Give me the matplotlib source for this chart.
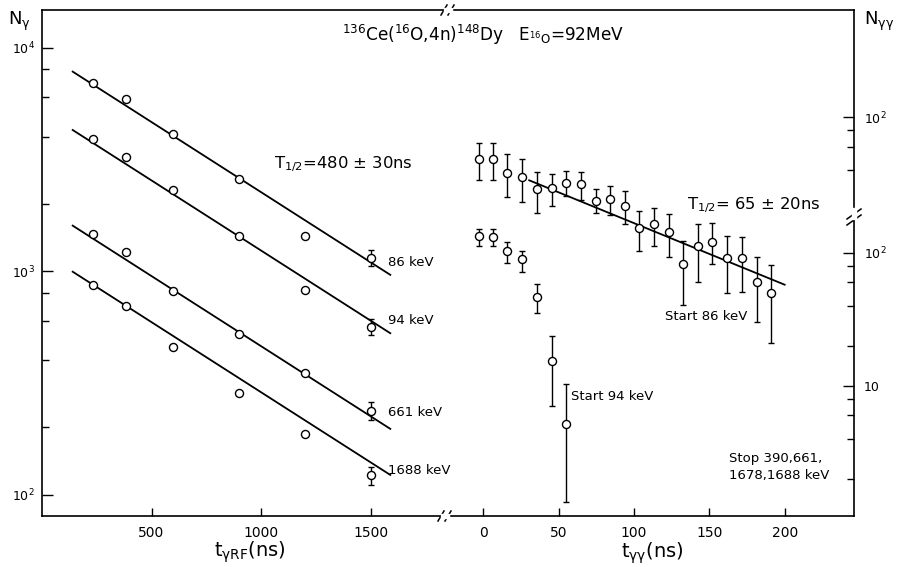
import numpy as np
import matplotlib.pyplot as plt
from matplotlib.lines import Line2D
from matplotlib.patches import Rectangle
from matplotlib.ticker import (FixedLocator, FixedFormatter, LogLocator,
                               NullFormatter)

plt.rcParams['font.family'] = 'DejaVu Sans'
plt.rcParams['mathtext.default'] = 'regular'

# gamma-RF delayed time spectra (left panel)
t_rf = [235, 385, 600, 900, 1200, 1500]
n_86 = [6970, 5890, 4110, 2580, 1430, 1150]
n_94 = [3900, 3240, 2310, 1430, 820, 565]
n_661 = [1465, 1215, 815, 525, 352, 238]
n_1688 = [867, 700, 458, 286, 186, 122]
rf_labels = ['86 keV', '94 keV', '661 keV', '1688 keV']
rf_last_err = [0.08, 0.08, 0.09, 0.09]    # relative error of the 1500 ns points

rf_half_life = 480.0                       # ns
rf_fit_n0 = [9570, 5245, 1958, 1218]       # fitted counts at t = 0
rf_fit_range = (140, 1590)

# gamma-gamma coincidence spectra (right panel)
t_gg = [-3, 6.5, 16, 26, 36, 45.5, 55, 65, 74.5, 84, 94, 103.5, 113, 123,
        132.5, 142.5, 152, 162, 171.5, 181.5, 191]
n_start86 = [48.5, 48.1, 38.1, 35.2, 28.9, 29.4, 32.1, 31.2, 23.3, 24.3, 21.4,
             14.7, 15.6, 13.6, 7.85, 10.7, 11.5, 8.8, 8.8, 5.8, 4.8]
n_start86_hi = [64, 64.1, 53.3, 48.3, 38.8, 37.7, 39.5, 38.8, 28.8, 30.4, 27.8,
                19.7, 20.6, 18.7, 11.7, 15.6, 15.9, 12.8, 12.6, 8.9, 7.8]
n_start86_lo = [33.5, 33.6, 24.9, 23.1, 18.9, 21.4, 25.5, 24.0, 18.9, 18.5, 15.6,
                9.8, 10.7, 8.9, 3.9, 5.8, 7.85, 4.8, 4.85, 2.9, 2.0]

t_gg94 = [-3, 6.5, 16, 26, 36, 45.5, 55]
n_start94 = [135, 132.6, 103.5, 89.7, 46.5, 15.4, 5.15]
n_start94_hi = [152, 151.5, 121.6, 104, 58.2, 23.9, 10.3]
n_start94_lo = [113, 112.9, 83.7, 72.3, 35.2, 7.08, 1.35]

gg_half_life = 65.0                        # ns
gg_fit_n0 = 46.4
gg_fit_range = (30.5, 200)

# the start-86 keV spectrum is drawn on its own (shifted) scale
shift86 = 10.5

W, H = 897, 567


def box(x0, y0, x1, y1):
    return [x0 / W, 1 - y1 / H, (x1 - x0) / W, (y1 - y0) / H]


def fxy(x, y):
    return x / W, 1 - y / H


fig = plt.figure(figsize=(W / 100, H / 100), dpi=100)
ax1 = fig.add_axes(box(42, 10, 449, 516))
ax2 = fig.add_axes(box(449, 10, 854, 516))

mk = dict(marker='o', ms=5.8, mfc='white', mec='k', mew=1.0, ls='none',
          zorder=3)

# ---- left panel
ax1.set_yscale('log')
for n, n0, err in zip([n_86, n_94, n_661, n_1688], rf_fit_n0, rf_last_err):
    tt = np.linspace(*rf_fit_range, 50)
    ax1.plot(tt, n0 * 2 ** (-tt / rf_half_life), 'k-', lw=1.3)
    ax1.errorbar(t_rf[-1], n[-1], yerr=[[n[-1] * err], [n[-1] * err]],
                 fmt='none', ecolor='k', elinewidth=1, capsize=2, zorder=2)
    ax1.plot(t_rf, n, **mk)

ax1.set_xlim(0, 1858)
ax1.set_ylim(80.3, 14750)
ax1.set_xticks([500, 1000, 1500])
ax1.yaxis.set_major_locator(LogLocator(base=10))
ax1.yaxis.set_minor_locator(LogLocator(base=10, subs=(2, 4, 6, 8)))
ax1.yaxis.set_minor_formatter(NullFormatter())
ax1.spines['right'].set_visible(False)
ax1.tick_params(which='both', direction='in', top=False, right=False,
                width=1, labelsize=10)
ax1.tick_params(axis='y', which='major', length=8, pad=5, labelsize=9)
ax1.tick_params(axis='y', which='minor', length=5)
ax1.tick_params(axis='x', length=6, pad=7)

# ---- right panel
ax2.set_yscale('log')
tt = np.linspace(*gg_fit_range, 50)
ax2.plot(tt, shift86 * gg_fit_n0 * 2 ** (-tt / gg_half_life), 'k-', lw=1.3)
n86 = np.array(n_start86) * shift86
ax2.errorbar(t_gg, n86,
             yerr=[n86 - np.array(n_start86_lo) * shift86,
                   np.array(n_start86_hi) * shift86 - n86],
             fmt='none', ecolor='k', elinewidth=1, capsize=2, zorder=2)
ax2.plot(t_gg, n86, **mk)
n94 = np.array(n_start94)
ax2.errorbar(t_gg94, n94,
             yerr=[n94 - np.array(n_start94_lo), np.array(n_start94_hi) - n94],
             fmt='none', ecolor='k', elinewidth=1, capsize=2, zorder=2)
ax2.plot(t_gg94, n94, **mk)

ax2.set_xlim(-22.7, 246)
ax2.set_ylim(1.053, 6714)
ax2.set_xticks([0, 50, 100, 150, 200])
ax2.yaxis.tick_right()
ax2.yaxis.set_major_locator(FixedLocator([10, 100, 100 * shift86]))
ax2.yaxis.set_major_formatter(FixedFormatter(['10', '$10^2$', '$10^2$']))
ax2.yaxis.set_minor_locator(FixedLocator(
    [2, 4, 6, 8, 20, 40, 60, 80] + [v * shift86 for v in (40, 60, 80)]))
ax2.yaxis.set_minor_formatter(NullFormatter())
ax2.spines['left'].set_visible(False)
ax2.tick_params(which='both', direction='in', top=False, left=False,
                width=1, labelsize=10)
ax2.tick_params(axis='y', which='major', length=8, pad=7, labelsize=9)
ax2.tick_params(axis='y', which='minor', length=5)
ax2.tick_params(axis='x', length=6, pad=7)

for ax in (ax1, ax2):
    for sp in ax.spines.values():
        sp.set_linewidth(1.2)


# ---- axis breaks
def slash(x0, y0, x1, y1):
    fig.add_artist(Line2D([x0 / W, x1 / W], [1 - y0 / H, 1 - y1 / H],
                          color='k', lw=1.1, transform=fig.transFigure))


def gap(x0, y0, x1, y1):
    fig.add_artist(Rectangle(fxy(x0, y1), (x1 - x0) / W, (y1 - y0) / H,
                             transform=fig.transFigure, color='white',
                             zorder=5))


gap(444, 8, 452, 12)
slash(441, 15, 447, 5)
slash(448, 15, 454, 5)
gap(441, 514, 449, 518)
slash(438, 521, 444, 511)
slash(445, 521, 451, 511)
gap(852, 208, 856, 219)
slash(847, 219, 861, 209)
slash(847, 225, 861, 215)

# ---- labels
fig.text(*fxy(8, 25), r'N$_{γ}$', fontsize=13, va='baseline')
fig.text(*fxy(864, 25), r'N$_{γγ}$', fontsize=13, va='baseline')
fig.text(*fxy(342, 41),
         r'$^{136}$Ce($^{16}$O,4n)$^{148}$Dy   E$_{^{16}O}$=92MeV',
         fontsize=12.2, va='baseline')
fig.text(*fxy(250, 552), r't$_{γRF}$(ns)', fontsize=14, ha='center',
         va='center')
fig.text(*fxy(652, 553), r't$_{γγ}$(ns)', fontsize=14, ha='center',
         va='center')

fig.text(*fxy(274, 164), r'T$_{1/2}$=480 ± 30ns', fontsize=11.8, va='center')
fig.text(*fxy(687, 205), r'T$_{1/2}$= 65 ± 20ns', fontsize=11.8, va='center')

for lab, y in zip(rf_labels, [262, 321, 412, 471]):
    fig.text(*fxy(388, y), lab, fontsize=9.5, va='center')

fig.text(*fxy(665, 316), 'Start 86 keV', fontsize=9.5, va='center')
fig.text(*fxy(571, 396), 'Start 94 keV', fontsize=9.5, va='center')
fig.text(*fxy(729, 467), 'Stop 390,661,\n1678,1688 keV', fontsize=9.5,
         va='center', linespacing=1.35)

fig.savefig('out.png', dpi=100)
